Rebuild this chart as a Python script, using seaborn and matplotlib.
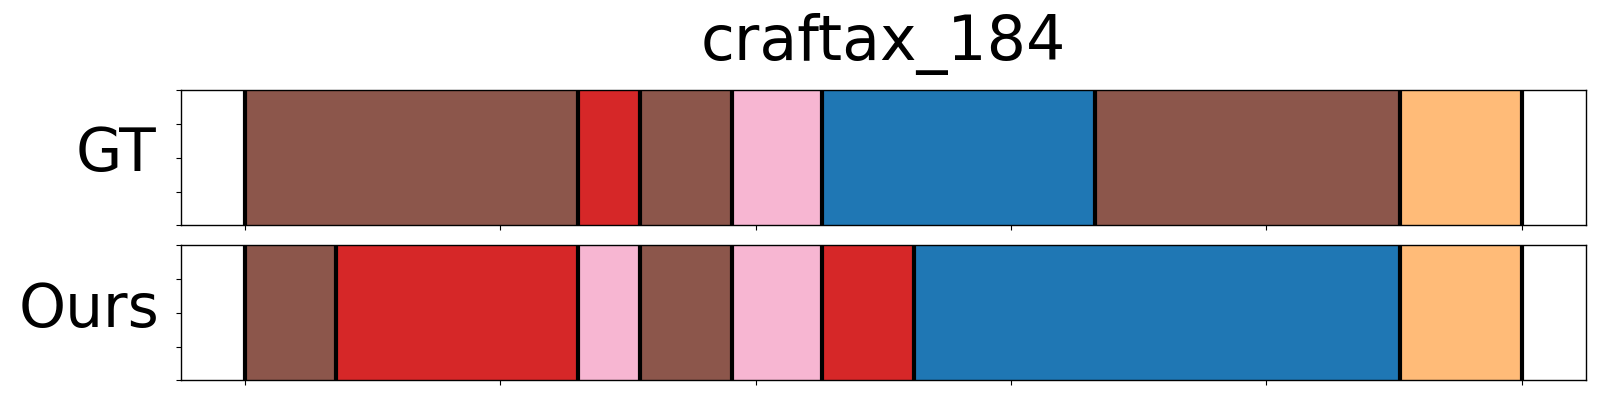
import matplotlib

matplotlib.use("Agg")
import matplotlib.pyplot as plt
import pandas as pd
import seaborn as sns

# segment boundaries (frame positions, 0..100) and the action class of each segment
gt_bounds = [0, 26.1, 30.9, 38.1, 45.2, 66.6, 90.5, 100]
gt_labels = ["brown", "red", "brown", "pink", "blue", "brown", "orange"]

ours_bounds = [0, 7.1, 26.1, 30.9, 38.1, 45.2, 52.4, 90.5, 100]
ours_labels = ["brown", "red", "pink", "brown", "pink", "red", "blue", "orange"]

row_names = ["GT", "Ours"]
title = "craftax_184"

palette = {
    "brown": "#8c564b",
    "red": "#d62728",
    "pink": "#f7b6d2",
    "blue": "#1f77b4",
    "orange": "#ffbb78",
}


def to_frame(bounds: list, labels: list) -> pd.DataFrame:
    return pd.DataFrame(
        {
            "start": bounds[:-1],
            "width": [b - a for a, b in zip(bounds[:-1], bounds[1:])],
            "label": labels,
        }
    )


def draw_row(ax, bounds: list, labels: list, name: str) -> None:
    df = to_frame(bounds, labels)
    ax.barh(
        y=0.5,
        width=df["width"],
        left=df["start"],
        height=1.0,
        color=[palette[c] for c in df["label"]],
        edgecolor="none",
    )
    for b in bounds:
        ax.axvline(b, color="black", lw=3.0, zorder=3)
    ax.set_ylim(0, 1)
    ax.set_xlim(-5, 105)
    ax.set_yticks([0, 0.25, 0.5, 0.75, 1.0])
    ax.set_xticks([0, 20, 40, 60, 80, 100])
    ax.set_yticklabels([])
    ax.set_xticklabels([])
    ax.set_ylabel(name, rotation=0, fontsize=43, ha="right", va="center")


def main() -> None:
    sns.set_theme(
        style="ticks",
        rc={
            "axes.edgecolor": "black",
            "axes.linewidth": 1.0,
            "text.color": "black",
            "axes.labelcolor": "black",
            "xtick.color": "black",
            "ytick.color": "black",
            "xtick.major.size": 3.5,
            "ytick.major.size": 3.5,
            "xtick.major.width": 0.8,
            "ytick.major.width": 0.8,
        },
    )
    plt.rcParams["font.family"] = ["DejaVu Sans"]

    fig, axes = plt.subplots(2, 1, figsize=(16, 4), dpi=100)
    fig.subplots_adjust(left=0.1133, right=0.991, top=0.774, bottom=0.049, hspace=0.148)

    draw_row(axes[0], gt_bounds, gt_labels, row_names[0])
    draw_row(axes[1], ours_bounds, ours_labels, row_names[1])
    axes[0].yaxis.set_label_coords(-0.0176, 0.526)
    axes[1].yaxis.set_label_coords(-0.0158, 0.52)
    axes[0].set_title(title, fontsize=44.5, pad=22)

    fig.savefig("out.png")
    plt.close(fig)


if __name__ == "__main__":
    main()
